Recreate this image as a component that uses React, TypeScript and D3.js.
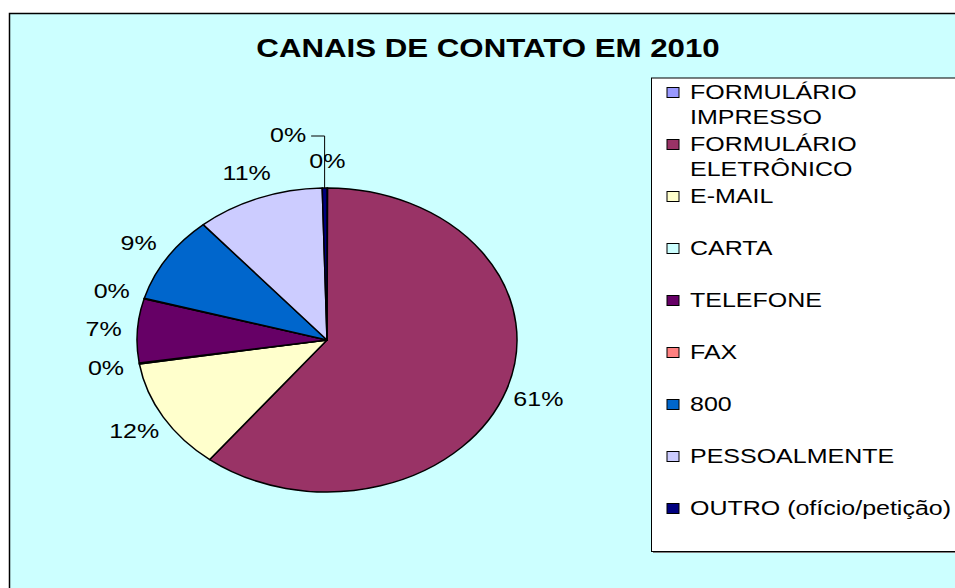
import React from 'react';
import * as d3 from 'd3';

const title = 'CANAIS DE CONTATO EM 2010';
const categories = [
  'FORMULÁRIO IMPRESSO',
  'FORMULÁRIO ELETRÔNICO',
  'E-MAIL',
  'CARTA',
  'TELEFONE',
  'FAX',
  '800',
  'PESSOALMENTE',
  'OUTRO (ofício/petição)',
];
const legendLines = [
  ['FORMULÁRIO', 'IMPRESSO'],
  ['FORMULÁRIO', 'ELETRÔNICO'],
  ['E-MAIL'],
  ['CARTA'],
  ['TELEFONE'],
  ['FAX'],
  ['800'],
  ['PESSOALMENTE'],
  ['OUTRO (ofício/petição)'],
];
const values = [0.05, 60.6, 11.9, 0.1, 6.8, 0.05, 9.3, 10.9, 0.4];
const colors = ['#9999FF', '#993366', '#FFFFCC', '#CCFFFF', '#660066', '#FF8080', '#0066CC', '#CCCCFF', '#000080'];

const W = 955;
const H = 588;
const S = 1.25; // horizontal stretch of the whole picture
const FONT = '"Liberation Sans", Arial, Helvetica, sans-serif';

export default function App() {
  const cx = 327;
  const cy = 340;
  const r = 152;
  const total = d3.sum(values);
  const arcs = d3.pie<number>().sort(null).value((d) => d)(values);
  const arc = d3.arc<d3.PieArcDatum<number>>().innerRadius(0).outerRadius(r);

  // labels
  const R = 179;
  const fs = 20;
  type Lbl = { x: number; y: number; w: number; h: number; text: string; leader?: number[][] };
  const placed: Lbl[] = [];
  arcs.forEach((a, i) => {
    const mid = (a.startAngle + a.endAngle) / 2;
    const text = Math.round((values[i] / total) * 100) + '%';
    const w = ((text.length - 1) * 556 + 889) / 1000 * fs * S;
    const h = fs;
    let x = cx + S * R * Math.sin(mid);
    let y = cy - R * Math.cos(mid);
    const overlaps = (l: Lbl) => Math.abs(l.x - x) < (l.w + w) / 2 && Math.abs(l.y - y) < (l.h + h) / 2;
    let leader: number[][] | undefined;
    if (placed.some(overlaps)) {
      const side = Math.sin(mid) < 0 ? -1 : 1;
      x = x + side * w;
      y = y - h * 1.3;
      const ex = cx + S * r * Math.sin(mid);
      const ey = cy - r * Math.cos(mid);
      const sx = x - side * (w / 2 + 5);
      leader = [[sx, y + 1], [ex, y + 1], [ex, ey]];
    }
    placed.push({ x, y, w, h, text, leader });
  });

  const legendX = 651.5;
  const legendY = 78;
  const itemStep = 52;
  const firstBase = 99;

  return (
    <svg width={W} height={H} style={{ position: 'absolute', left: 0, top: 0, display: 'block' }}>
      <rect x={0} y={0} width={W} height={H} fill="#ffffff" />
      <rect x={9.5} y={13.5} width={W + 20} height={H + 20} fill="#CCFFFF" stroke="#000" strokeWidth={1.5} />
      <text
        transform={`translate(${488},${57}) scale(${S},1)`}
        textAnchor="middle"
        fontFamily={FONT}
        fontWeight="bold"
        fontSize={25}
        fill="#000"
      >
        {title}
      </text>

      <g transform={`translate(${cx},${cy}) scale(${S},1)`}>
        {arcs.map((a, i) => (
          <path
            key={categories[i]}
            d={arc(a) || ''}
            fill={colors[i]}
            stroke="#000"
            strokeWidth={1.5}
            vectorEffect="non-scaling-stroke"
            strokeLinejoin="round"
          />
        ))}
      </g>

      {placed.map((l, i) => (
        <g key={'l' + i}>
          {l.leader && (
            <polyline points={l.leader.map((p) => p.join(',')).join(' ')} fill="none" stroke="#000" strokeWidth={1} />
          )}
          <text
            transform={`translate(${l.x},${l.y + 7}) scale(${S},1)`}
            textAnchor="middle"
            fontFamily={FONT}
            fontSize={fs}
            fill="#000"
          >
            {l.text}
          </text>
        </g>
      ))}

      <rect x={legendX + 1.5} y={legendY + 1.5} width={W} height={473.5} fill="#808080" />
      <rect x={legendX} y={legendY} width={W} height={473.5} fill="#ffffff" stroke="#000" strokeWidth={1} />
      {legendLines.map((lines, i) => {
        const b = firstBase + itemStep * i;
        return (
          <g key={'lg' + i}>
            <rect x={667} y={b - 11.5} width={12} height={10} fill={colors[i]} stroke="#000" strokeWidth={1} />
            {lines.map((t, j) => (
              <text
                key={j}
                transform={`translate(${690},${b + j * 24.5}) scale(${S},1)`}
                fontFamily={FONT}
                fontSize={fs}
                fill="#000"
              >
                {t}
              </text>
            ))}
          </g>
        );
      })}
    </svg>
  );
}
